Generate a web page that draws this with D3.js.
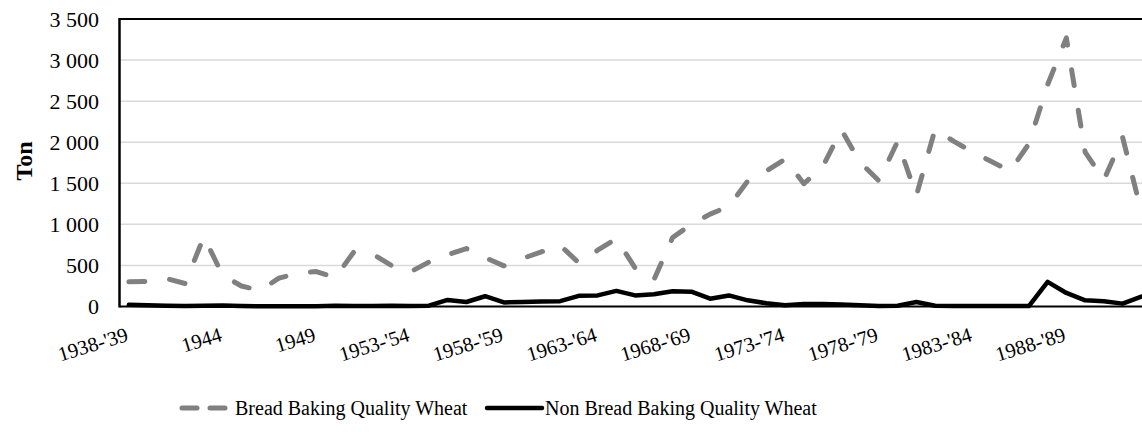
<!DOCTYPE html>
<html><head><meta charset="utf-8">
<script src="https://cdn.jsdelivr.net/npm/d3@7/dist/d3.min.js"></script>
<style>body{margin:0;background:#fff;} svg{display:block;} svg text{font-family:"Liberation Serif","Times New Roman",serif !important;}</style>
</head><body>
<svg id="chart" width="1142" height="432"></svg>
<script>
const categories = ["1938-'39","1939-'40","1940-'41","1942","1943","1944","1945","1946","1947","1948",
 "1949","1950","1951","1952","1952-'53","1953-'54","1954-'55","1955-'56","1956-'57","1957-'58",
 "1958-'59","1959-'60","1960-'61","1961-'62","1962-'63","1963-'64","1964-'65","1965-'66","1966-'67","1967-'68",
 "1968-'69","1969-'70","1970-'71","1971-'72","1972-'73","1973-'74","1974-'75","1975-'76","1976-'77","1977-'78",
 "1978-'79","1979-'80","1980-'81","1981-'82","1982-'83","1983-'84","1984-'85","1985-'86","1986-'87","1987-'88",
 "1988-'89","1989-'90","1990-'91","1991-'92","1992-'93"];
const breadWheat = [300,305,340,280,850,380,250,195,345,405,
 425,350,665,640,500,420,540,630,705,595,
 495,585,665,745,530,685,825,470,325,840,
 1000,1125,1220,1525,1650,1795,1495,1700,2150,1755,
 1530,2010,1350,2160,2010,1880,1765,1650,1980,2700,
 3270,1880,1540,2060,1150];
const nonBreadWheat = [20,15,10,5,10,12,5,3,3,2,
 3,8,5,5,8,5,10,80,55,125,
 50,55,60,65,130,135,190,135,150,185,
 180,95,135,75,40,15,30,30,25,15,
 5,10,55,10,5,5,5,5,5,300,
 165,75,65,35,120];
const xTickLabels = ["1938-'39","1944","1949","1953-'54","1958-'59","1963-'64","1968-'69","1973-'74","1978-'79","1983-'84","1988-'89"];
const yTicks = [0,500,1000,1500,2000,2500,3000,3500];
const seriesNames = ["Bread Baking Quality Wheat","Non Bread Baking Quality Wheat"];

(function draw() {
const svg = d3.select("#chart");
const pL = 119.5, pT = 19, pB = 306.5;
const step = 18.75;
const pR = pL + categories.length * step;

const x = d3.scaleBand().domain(categories).range([pL, pR]).padding(0);
const xc = c => x(c) + x.bandwidth() / 2;
const y = d3.scaleLinear().domain([0, 3500]).range([pB, pT]);

svg.append("g").selectAll("line").data(yTicks.filter(d => d > 0 && d < 3500)).join("line")
  .attr("x1", pL).attr("x2", pR).attr("y1", d => y(d)).attr("y2", d => y(d))
  .attr("stroke", "#d9d9d9").attr("stroke-width", 1.5);

const yAxis = d3.axisLeft(y).tickValues(yTicks).tickSize(0).tickPadding(0)
  .tickFormat(d => d3.format(",")(d).replace(/,/g, " "));
const gy = svg.append("g").attr("transform", `translate(${pL - 20.5},0)`).call(yAxis);
gy.select(".domain").remove();
gy.selectAll("text").attr("font-size", 22).attr("fill", "#000").attr("dy", "0.34em");

svg.append("line").attr("x1", pL).attr("x2", pR).attr("y1", pT).attr("y2", pT)
  .attr("stroke", "#000").attr("stroke-width", 2);
svg.append("line").attr("x1", pL).attr("x2", pL).attr("y1", pT - 1).attr("y2", pB + 1)
  .attr("stroke", "#000").attr("stroke-width", 2.5);
svg.append("line").attr("x1", pL).attr("x2", pR).attr("y1", pB).attr("y2", pB)
  .attr("stroke", "#000").attr("stroke-width", 2);

const xAxis = d3.axisBottom(x).tickValues(xTickLabels).tickSize(0).tickPadding(0);
const gx = svg.append("g").attr("transform", `translate(0,${pB})`).call(xAxis);
gx.select(".domain").remove();
gx.selectAll("text").attr("font-size", 20.5).attr("fill", "#000")
  .attr("text-anchor", "end").attr("y", 0).attr("dy", 0)
  .attr("transform", "translate(0.5,34) rotate(-17)");

const line = d3.line().x((d, i) => xc(categories[i])).y(d => y(d));
svg.append("path").datum(nonBreadWheat).attr("d", line)
  .attr("fill", "none").attr("stroke", "#000").attr("stroke-width", 4.5)
  .attr("stroke-linejoin", "round").attr("stroke-linecap", "round");
svg.append("path").datum(breadWheat).attr("d", line)
  .attr("fill", "none").attr("stroke", "#808080").attr("stroke-width", 5)
  .attr("stroke-dasharray", "16,25").attr("stroke-linejoin", "round").attr("stroke-linecap", "round");

svg.append("text").attr("transform", "translate(32,161) rotate(-90)")
  .attr("text-anchor", "middle").attr("font-size", 24)
  .attr("font-weight", "bold").text("Ton");

const ly = 408;
const lg = svg.append("g");
lg.append("line").attr("x1", 182).attr("x2", 225).attr("y1", ly).attr("y2", ly)
  .attr("stroke", "#808080").attr("stroke-width", 5).attr("stroke-dasharray", "15,13").attr("stroke-linecap", "round");
lg.append("text").attr("x", 235).attr("y", ly).attr("dy", "0.34em")
  .attr("font-size", 20).text(seriesNames[0]);
lg.append("line").attr("x1", 487).attr("x2", 542).attr("y1", ly).attr("y2", ly)
  .attr("stroke", "#000").attr("stroke-width", 4.5).attr("stroke-linecap", "round");
lg.append("text").attr("x", 545).attr("y", ly).attr("dy", "0.34em")
  .attr("font-size", 20).text(seriesNames[1]);
})();
</script>
</body></html>
